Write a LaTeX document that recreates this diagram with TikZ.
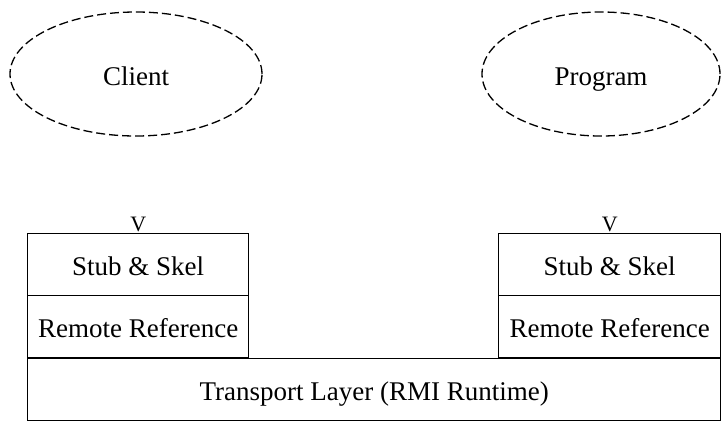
\documentclass[tikz,border=0pt]{standalone}
\usepackage{fontspec}
\setmainfont{Liberation Serif}
\usetikzlibrary{shapes.geometric}
\begin{document}
\begin{tikzpicture}[x=1pt,y=-1pt,
  every node/.style={font=\fontsize{27}{31}\selectfont, inner sep=0pt,
    text height=23pt, text depth=1pt},
  actor/.style={ellipse, draw, line width=1.3pt, dash pattern=on 9pt off 4pt},
  layer/.style={rectangle, draw, line width=1.4pt, anchor=north west},
  tip/.style={font=\fontsize{22}{26}\selectfont, text height=15pt, text depth=0pt}]
  \useasboundingbox (0,0) rectangle (723,429);
  % processes
  \node[actor, minimum width=252, minimum height=124] (client) at (136,74) {Client};
  \node[actor, minimum width=238, minimum height=124] (program) at (601,74) {Program};
  % client-side stack
  \node[layer, minimum width=221, minimum height=62] (stubL) at (27,233) {Stub \& Skel};
  \node[layer, minimum width=221, minimum height=62] (refL) at (27,295) {Remote Reference};
  % server-side stack
  \node[layer, minimum width=222, minimum height=62] (stubR) at (498,233) {Stub \& Skel};
  \node[layer, minimum width=222, minimum height=62] (refR) at (498,295) {Remote Reference};
  % shared transport
  \node[layer, minimum width=693, minimum height=62] (transport) at (27,358) {Transport Layer (RMI Runtime)};
  % arrow tips into the stubs
  \node[tip, anchor=base] (tipL) at ([yshift=2]stubL.north) {V};
  \node[tip, anchor=base] (tipR) at ([yshift=2]stubR.north) {V};
\end{tikzpicture}
\end{document}
